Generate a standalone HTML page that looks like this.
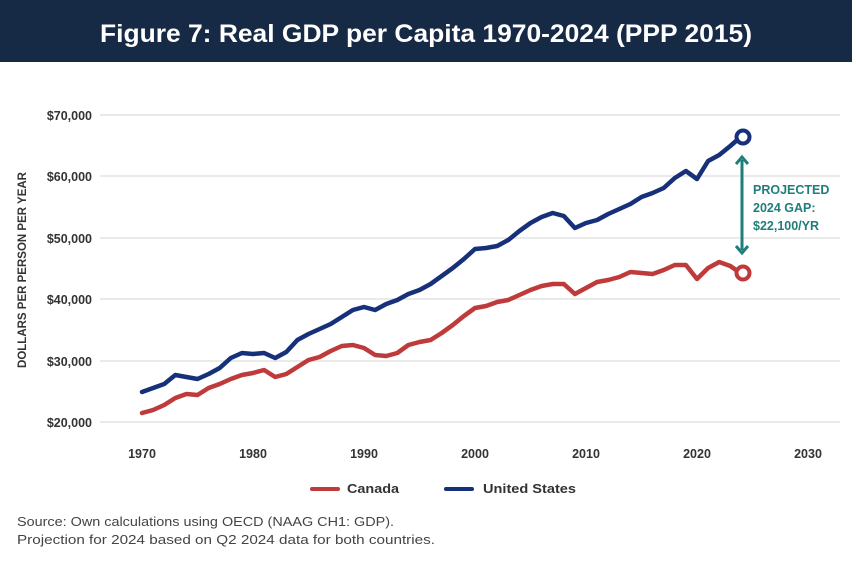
<!DOCTYPE html>
<html><head><meta charset="utf-8"><style>
body{margin:0;width:856px;height:566px;background:#fff;overflow:hidden;font-family:"Liberation Sans",sans-serif}
</style></head><body>
<svg width="856" height="566" xmlns="http://www.w3.org/2000/svg" font-family="Liberation Sans, sans-serif">
<rect x="0" y="0" width="852" height="62" fill="#172a45"/>
<text x="100" y="42" fill="#fff" font-size="25" font-weight="bold" textLength="652" lengthAdjust="spacingAndGlyphs">Figure 7: Real GDP per Capita 1970-2024 (PPP 2015)</text>
<g stroke="#dedede" stroke-width="1.2">
<line x1="100" y1="115" x2="840" y2="115"/><line x1="100" y1="176" x2="840" y2="176"/><line x1="100" y1="238" x2="840" y2="238"/><line x1="100" y1="299" x2="840" y2="299"/><line x1="100" y1="361" x2="840" y2="361"/><line x1="100" y1="422" x2="840" y2="422"/>
</g>
<g font-size="12.5" font-weight="bold" fill="#333" text-anchor="end">
<text x="92" y="120">$70,000</text><text x="92" y="181">$60,000</text><text x="92" y="243">$50,000</text><text x="92" y="304">$40,000</text><text x="92" y="366">$30,000</text><text x="92" y="427">$20,000</text>
</g>
<g font-size="12.5" font-weight="bold" fill="#333" text-anchor="middle">
<text x="142" y="458">1970</text><text x="253" y="458">1980</text><text x="364" y="458">1990</text><text x="475" y="458">2000</text><text x="586" y="458">2010</text><text x="697" y="458">2020</text><text x="808" y="458">2030</text>
</g>
<text transform="translate(26,270) rotate(-90)" font-size="11.5" font-weight="bold" fill="#333" text-anchor="middle">DOLLARS PER PERSON PER YEAR</text>
<polyline fill="none" stroke="#bf3a3a" stroke-width="4.5" stroke-linejoin="round" stroke-linecap="round" points="142,413 153.1,410 164.2,405 175.3,398 186.4,394 197.5,395 208.6,388 219.7,384 230.8,379 241.9,375 253,373 264.1,370 275.2,377 286.3,374 297.4,367 308.5,360 319.6,357 330.7,351 341.8,346 352.9,345 364,348 375.1,355 386.2,356 397.3,353 408.4,345 419.5,342 430.6,340 441.7,333 452.8,325 463.9,316 475,308 486.1,306 497.2,302 508.3,300 519.4,295 530.5,290 541.6,286 552.7,284 563.8,284 574.9,294 586,288 597.1,282 608.2,280 619.3,277 630.4,272 641.5,273 652.6,274 663.7,270 674.8,265 685.9,265 697,279 708.1,268 719.2,262 730.3,266 736,270"/>
<polyline fill="none" stroke="#16317a" stroke-width="4.5" stroke-linejoin="round" stroke-linecap="round" points="142,392 153.1,388 164.2,384 175.3,375 186.4,377 197.5,379 208.6,374 219.7,368 230.8,358 241.9,353 253,354 264.1,353 275.2,358 286.3,352 297.4,340 308.5,334 319.6,329 330.7,324 341.8,317 352.9,310 364,307 375.1,310 386.2,304 397.3,300 408.4,294 419.5,290 430.6,284 441.7,276 452.8,268 463.9,259 475,249 486.1,248 497.2,246 508.3,240 519.4,231 530.5,223 541.6,217 552.7,213 563.8,216 574.9,228 586,223 597.1,220 608.2,214 619.3,209 630.4,204 641.5,197 652.6,193 663.7,188 674.8,178 685.9,171 697,179 708.1,161 719.2,155 730.3,146 736,141"/>
<circle cx="743" cy="137" r="6.5" fill="#fff" stroke="#16317a" stroke-width="4"/>
<circle cx="743" cy="273" r="6.5" fill="#fff" stroke="#bf3a3a" stroke-width="4"/>
<line x1="742" y1="160" x2="742" y2="250" stroke="#1e7f7a" stroke-width="3"/>
<polyline points="736,164 742,157 748,164" fill="none" stroke="#1e7f7a" stroke-width="3"/>
<polyline points="736,246 742,253 748,246" fill="none" stroke="#1e7f7a" stroke-width="3"/>
<g font-size="12.5" font-weight="bold" fill="#1e7f7a">
<text x="753" y="194">PROJECTED</text><text x="753" y="212">2024 GAP:</text><text x="753" y="230">$22,100/YR</text>
</g>
<line x1="312" y1="489" x2="338" y2="489" stroke="#bf3a3a" stroke-width="4" stroke-linecap="round"/>
<text x="347" y="493" font-size="12.5" font-weight="bold" fill="#333" textLength="52" lengthAdjust="spacingAndGlyphs">Canada</text>
<line x1="446" y1="489" x2="472" y2="489" stroke="#16317a" stroke-width="4" stroke-linecap="round"/>
<text x="483" y="493" font-size="12.5" font-weight="bold" fill="#333" textLength="93" lengthAdjust="spacingAndGlyphs">United States</text>
<g font-size="13" fill="#444">
<text x="17" y="526" textLength="377" lengthAdjust="spacingAndGlyphs">Source: Own calculations using OECD (NAAG CH1: GDP).</text>
<text x="17" y="544" textLength="418" lengthAdjust="spacingAndGlyphs">Projection for 2024 based on Q2 2024 data for both countries.</text>
</g>
</svg>
</body></html>
